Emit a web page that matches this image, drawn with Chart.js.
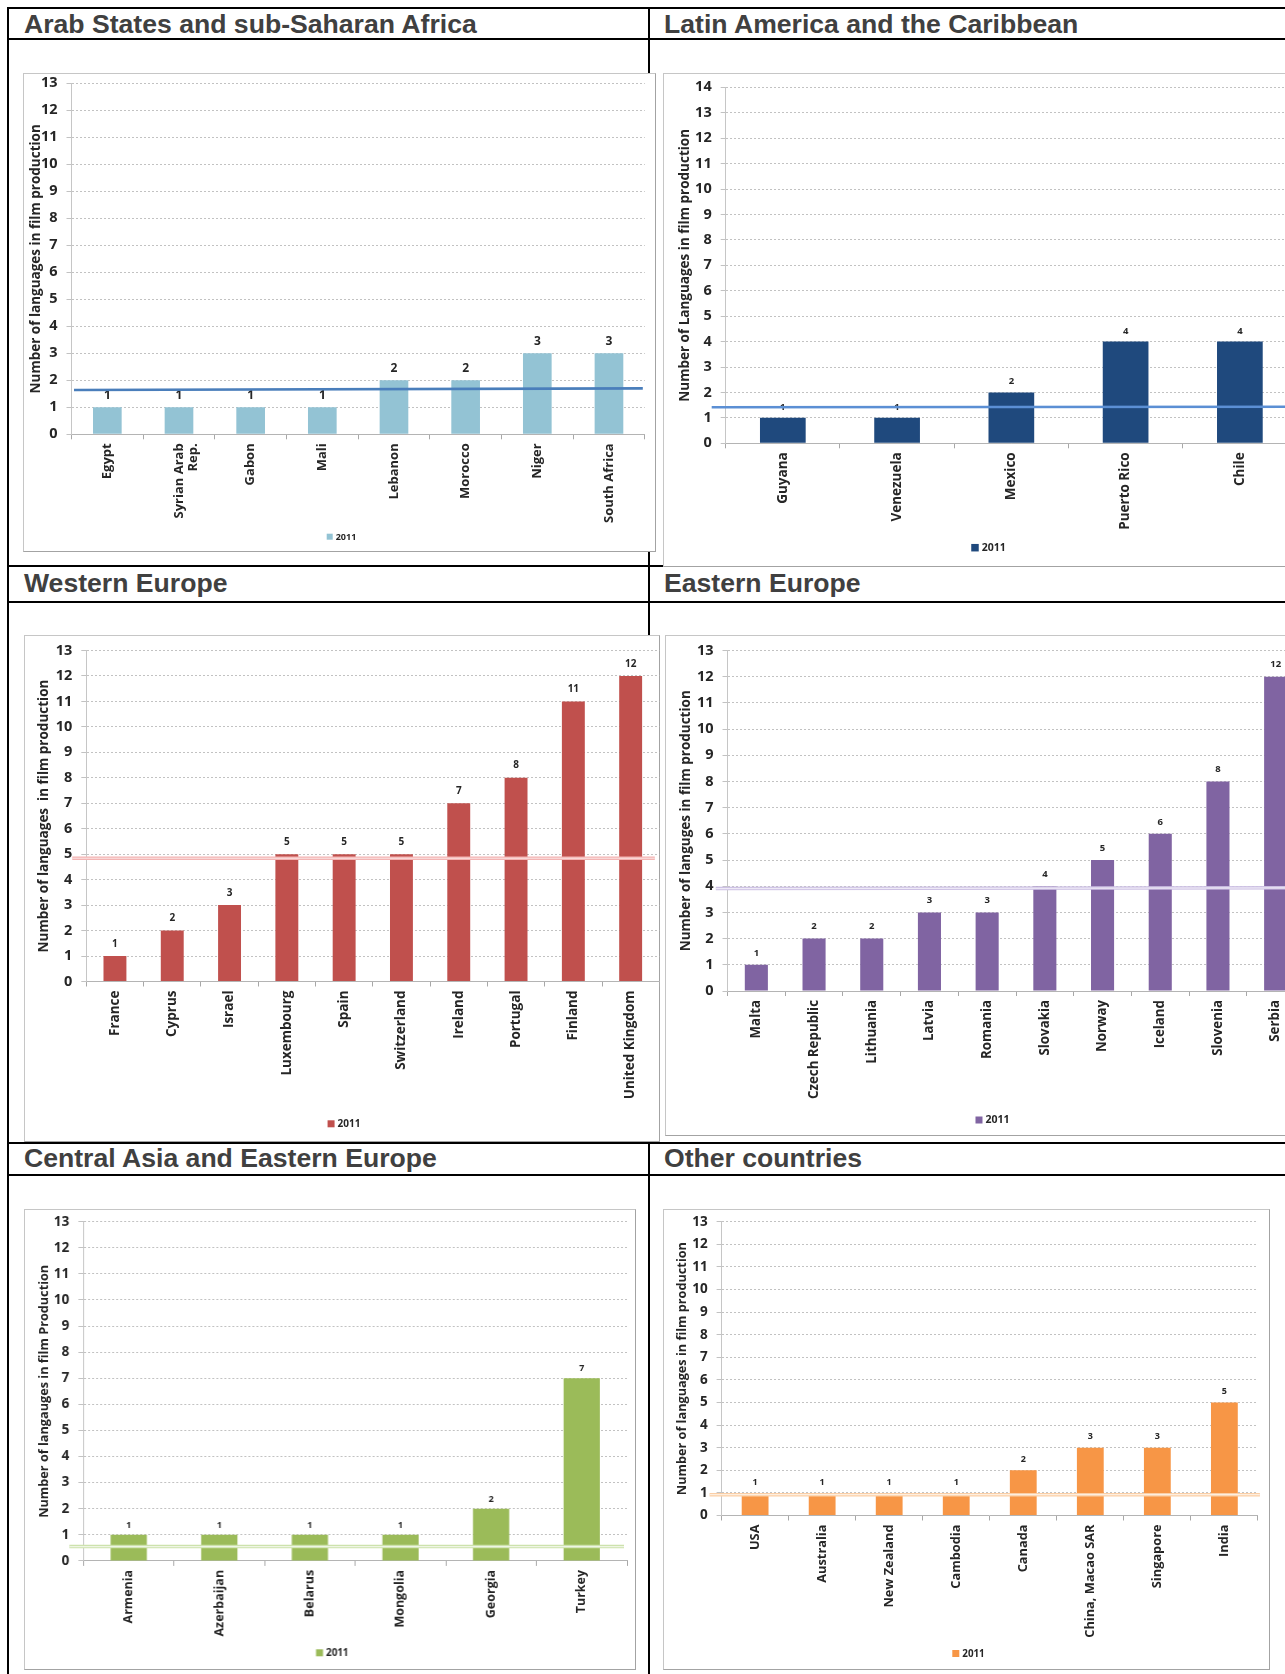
<!DOCTYPE html>
<html>
<head>
<meta charset="utf-8">
<title>Number of languages in film production, 2011</title>
<script src="https://cdn.jsdelivr.net/npm/chart.js@4.4.1/dist/chart.umd.min.js"></script>
<style>
  html, body { margin: 0; padding: 0; background: #fff; width: 1285px; height: 1674px; overflow: hidden; position: relative; }
  .rule { position: absolute; background: #000; }
  .head { position: absolute; font: bold 26.6px "Liberation Sans", Arial, sans-serif; color: #404040; white-space: nowrap; line-height: 30px; height: 30px; }
  .box { position: absolute; background: #fff; border: 1px solid #c6c6c6; border-right-color: #a3a3a3; border-bottom-color: #a3a3a3; box-sizing: border-box; }
  .plot { position: absolute; left: -1px; top: -1px; }
</style>
</head>
<body>

<!-- table rules -->
<div class="rule" style="left:6.5px;top:6.5px;width:1280px;height:2px"></div>
<div class="rule" style="left:6.5px;top:6.5px;width:2px;height:1670px"></div>
<div class="rule" style="left:647.5px;top:6.5px;width:2px;height:1670px"></div>
<div class="rule" style="left:6.5px;top:38.3px;width:1280px;height:2px"></div>
<div class="rule" style="left:6.5px;top:565px;width:1280px;height:2px"></div>
<div class="rule" style="left:6.5px;top:601px;width:1280px;height:2px"></div>
<div class="rule" style="left:6.5px;top:1141.5px;width:1280px;height:2px"></div>
<div class="rule" style="left:6.5px;top:1174px;width:1280px;height:2px"></div>

<!-- region headings -->
<div class="head" style="left:24px;top:9.1px">Arab States and sub-Saharan Africa</div>
<div class="head" style="left:664px;top:9.1px">Latin America and the Caribbean</div>
<div class="head" style="left:24px;top:568.3px">Western Europe</div>
<div class="head" style="left:664px;top:567.8px">Eastern Europe</div>
<div class="head" style="left:24px;top:1143.2px">Central Asia and Eastern Europe</div>
<div class="head" style="left:664px;top:1143.2px">Other countries</div>

<!-- chart frames -->
<div class="box" style="left:23px;top:73px;width:633px;height:479px"><div class="plot" style="width:633px;height:479px"><canvas id="arab"></canvas></div></div>
<div class="box" style="left:663px;top:73px;width:647px;height:494px"><div class="plot" style="width:647px;height:494px"><canvas id="latin"></canvas></div></div>
<div class="box" style="left:24px;top:634.5px;width:636px;height:507px"><div class="plot" style="width:636px;height:507px"><canvas id="west"></canvas></div></div>
<div class="box" style="left:665px;top:634.5px;width:651px;height:501.5px"><div class="plot" style="width:651px;height:501.5px"><canvas id="east"></canvas></div></div>
<div class="box" style="left:24px;top:1208.5px;width:611.5px;height:461px"><div class="plot" style="width:611.5px;height:461px"><canvas id="central"></canvas></div></div>
<div class="box" style="left:663.4px;top:1208.5px;width:607px;height:461px"><div class="plot" style="width:607px;height:461px"><canvas id="other"></canvas></div></div>

<script>
// ---- data ----
const seriesLabel = '2011';

const arabCountries = ['Egypt', ['Syrian Arab', 'Rep.'], 'Gabon', 'Mali', 'Lebanon', 'Morocco', 'Niger', 'South Africa'];
const arabLanguages = [1, 1, 1, 1, 2, 2, 3, 3];
const arabLevel = [1.64, 1.70];

const latinCountries = ['Guyana', 'Venezuela', 'Mexico', 'Puerto Rico', 'Chile'];
const latinLanguages = [1, 1, 2, 4, 4];
const latinLevel = [1.42, 1.44];

const westCountries = ['France', 'Cyprus', 'Israel', 'Luxembourg', 'Spain', 'Switzerland', 'Ireland', 'Portugal', 'Finland', 'United Kingdom'];
const westLanguages = [1, 2, 3, 5, 5, 5, 7, 8, 11, 12];
const westLevel = [4.84, 4.84];

const eastCountries = ['Malta', 'Czech Republic', 'Lithuania', 'Latvia', 'Romania', 'Slovakia', 'Norway', 'Iceland', 'Slovenia', 'Serbia'];
const eastLanguages = [1, 2, 2, 3, 3, 4, 5, 6, 8, 12];
const eastLevel = [3.91, 3.94];

const centralCountries = ['Armenia', 'Azerbaijan', 'Belarus', 'Mongolia', 'Georgia', 'Turkey'];
const centralLanguages = [1, 1, 1, 1, 2, 7];
const centralLevel = [0.55, 0.55];

const otherCountries = ['USA', 'Australia', 'New Zealand', 'Cambodia', 'Canada', 'China, Macao SAR', 'Singapore', 'India'];
const otherLanguages = [1, 1, 1, 1, 2, 3, 3, 5];
const otherLevel = [0.92, 0.92];

// ---- plugins ----
const FONT = '"Open Sans", "DejaVu Sans", sans-serif';
const INK = '#262626';

// number printed above each bar
const valueLabels = {
  id: 'valueLabels',
  afterDatasetsDraw(chart, args, o) {
    const { ctx } = chart;
    const values = chart.data.datasets[0].data;
    ctx.save();
    ctx.font = `bold ${o.size}px ${FONT}`;
    ctx.fillStyle = INK;
    ctx.textAlign = 'center';
    ctx.textBaseline = 'middle';
    chart.getDatasetMeta(0).data.forEach((bar, i) => {
      ctx.fillText(String(values[i]), bar.x, bar.y - o.gap);
    });
    ctx.restore();
  }
};

// straight level line laid across the plot
const levelLine = {
  id: 'levelLine',
  afterDatasetsDraw(chart, args, o) {
    const { ctx, chartArea, scales } = chart;
    const x1 = chartArea.left + o.startShift;
    const x2 = chartArea.right + o.endShift;
    const y1 = scales.y.getPixelForValue(o.values[0]);
    const y2 = scales.y.getPixelForValue(o.values[1]);
    ctx.save();
    ctx.lineCap = 'butt';
    ctx.strokeStyle = o.color;
    ctx.lineWidth = o.width;
    ctx.beginPath(); ctx.moveTo(x1, y1); ctx.lineTo(x2, y2); ctx.stroke();
    if (o.core) {
      ctx.strokeStyle = o.core;
      ctx.lineWidth = o.coreWidth;
      ctx.beginPath(); ctx.moveTo(x1, y1); ctx.lineTo(x2, y2); ctx.stroke();
    }
    ctx.restore();
  }
};

// small swatch legend centred under the axis
const swatchLegend = {
  id: 'swatchLegend',
  afterDraw(chart, args, o) {
    const { ctx } = chart;
    const ds = chart.data.datasets[0];
    ctx.save();
    ctx.font = `bold ${o.size}px ${FONT}`;
    const tw = ctx.measureText(ds.label).width;
    const total = o.box + 3 + tw;
    const x = chart.width / 2 + o.shift - total / 2;
    ctx.fillStyle = ds.backgroundColor;
    ctx.fillRect(x, o.y - o.box / 2, o.box, o.box);
    ctx.fillStyle = INK;
    ctx.textAlign = 'left';
    ctx.textBaseline = 'middle';
    ctx.fillText(ds.label, x + o.box + 3, o.y + 0.5);
    ctx.restore();
  }
};

function buildChart(id, s) {
  const W = s.width, H = s.height;
  return new Chart(document.getElementById(id), {
    type: 'bar',
    data: {
      labels: s.labels,
      datasets: [{
        label: seriesLabel,
        data: s.values,
        backgroundColor: s.color,
        barPercentage: 0.4,
        categoryPercentage: 1
      }]
    },
    options: {
      responsive: true,
      maintainAspectRatio: false,
      animation: false,
      events: [],
      layout: { padding: { left: 0, top: s.top, right: W - s.right, bottom: 0 } },
      plugins: {
        legend: { display: false },
        tooltip: { enabled: false },
        valueLabels: { size: s.valueSize, gap: s.valueGap },
        levelLine: Object.assign({ values: s.level }, s.levelStyle),
        swatchLegend: { y: s.legendY, size: s.legendSize, box: s.legendBox, shift: 2 }
      },
      scales: {
        x: {
          grid: { display: true, drawOnChartArea: false, drawTicks: true, tickLength: 5, color: '#a8a8a8', offset: true },
          border: { display: true, color: '#b4b4b4', width: 1 },
          ticks: {
            autoSkip: false, minRotation: 90, maxRotation: 90, padding: 4,
            color: INK, font: { family: FONT, weight: 'bold', size: s.xSize, lineHeight: 1.1 }
          },
          afterFit(scale) { scale.height = H - s.bottom; scale.paddingLeft = 0; scale.paddingRight = 0; }
        },
        y: {
          min: 0, max: s.yMax,
          grid: { color: '#c2c2c2', lineWidth: 1, tickLength: 5, tickBorderDash: [] },
          border: { display: true, color: '#c6c6c6', width: 1, dash: [2, 2] },
          ticks: {
            stepSize: 1, padding: 9, color: INK,
            font: { family: FONT, weight: 'bold', size: s.ySize }
          },
          title: {
            display: true, text: s.yTitle, color: INK,
            font: { family: FONT, weight: 'bold', size: s.titleSize, lineHeight: 1.2 },
            padding: { top: s.titleX - s.titleSize * 0.6, bottom: 0 }
          },
          afterFit(scale) { scale.width = s.axis; scale.paddingTop = 0; scale.paddingBottom = 0; }
        }
      }
    },
    plugins: [valueLabels, levelLine, swatchLegend]
  });
}

function paleLine(outer, inner) {
  return { color: outer, width: 3.5, core: inner, coreWidth: 1.2 };
}

function drawAll() {
  buildChart('arab', {
    width: 633, height: 479, labels: arabCountries, values: arabLanguages, color: '#93c3d4', yMax: 13,
    axis: 48.5, top: 10.3, bottom: 361.3, right: 621.8,
    yTitle: 'Number of languages in film production', titleX: 13.5, titleSize: 13.5, ySize: 14.5, xSize: 13,
    valueSize: 12, valueGap: 12, legendY: 463.7, legendSize: 9, legendBox: 6,
    level: arabLevel, levelStyle: { color: '#4a7ebb', width: 2.6, startShift: 2.5, endShift: -2 }
  });
  buildChart('latin', {
    width: 647, height: 494, labels: latinCountries, values: latinLanguages, color: '#1f497d', yMax: 14,
    axis: 62.7, top: 14.3, bottom: 370.3, right: 634,
    yTitle: 'Number of Languages in film production', titleX: 22, titleSize: 13.5, ySize: 14.5, xSize: 13.5,
    valueSize: 9.5, valueGap: 10.7, legendY: 474.7, legendSize: 10.5, legendBox: 7.5,
    level: latinLevel, levelStyle: { color: '#5b8fd4', width: 2.4, startShift: -14, endShift: 0 }
  });
  buildChart('west', {
    width: 636, height: 507, labels: westCountries, values: westLanguages, color: '#c0504d', yMax: 13,
    axis: 62.3, top: 15.5, bottom: 346.5, right: 635.3,
    yTitle: 'Number of languages  in film production', titleX: 20.2, titleSize: 13.5, ySize: 14.5, xSize: 13.5,
    valueSize: 10, valueGap: 12.2, legendY: 488.8, legendSize: 10, legendBox: 7,
    level: westLevel, levelStyle: Object.assign(paleLine('#f3b4b3', '#fbe3e3'), { startShift: -14, endShift: -4.5 })
  });
  buildChart('east', {
    width: 651, height: 501.5, labels: eastCountries, values: eastLanguages, color: '#8064a2', yMax: 13,
    axis: 62.5, top: 15.5, bottom: 356, right: 639.5,
    yTitle: 'Number of languges in film production', titleX: 21.3, titleSize: 13.5, ySize: 14.5, xSize: 13.3,
    valueSize: 9.5, valueGap: 12, legendY: 485, legendSize: 10.5, legendBox: 7,
    level: eastLevel, levelStyle: Object.assign(paleLine('#cdc1e4', '#eee9f6'), { startShift: -11.7, endShift: 0 })
  });
  buildChart('central', {
    width: 611.5, height: 461, labels: centralCountries, values: centralLanguages, color: '#9bbb59', yMax: 13,
    axis: 59.3, top: 12.7, bottom: 351.9, right: 602,
    yTitle: 'Number of langauges in film Production', titleX: 20.2, titleSize: 12.7, ySize: 13.5, xSize: 12.5,
    valueSize: 9, valueGap: 9.7, legendY: 443.8, legendSize: 9.8, legendBox: 7,
    level: centralLevel, levelStyle: Object.assign(paleLine('#cde2ad', '#eef5e3'), { startShift: -14, endShift: -3 })
  });
  buildChart('other', {
    width: 607, height: 461, labels: otherCountries, values: otherLanguages, color: '#f79646', yMax: 13,
    axis: 58.6, top: 12.7, bottom: 306.5, right: 594.9,
    yTitle: 'Number of languages in film production', titleX: 19.8, titleSize: 12.7, ySize: 13.5, xSize: 12.8,
    valueSize: 9, valueGap: 10.8, legendY: 444.5, legendSize: 9.8, legendBox: 7,
    level: otherLevel, levelStyle: Object.assign(paleLine('#fbcfa6', '#fdeedf'), { startShift: -12, endShift: 2 })
  });
}

const ready = document.fonts && document.fonts.load
  ? Promise.all([document.fonts.load('bold 14px "Open Sans"'), document.fonts.load('bold 26px "Liberation Sans"')]).catch(() => {})
  : Promise.resolve();
ready.then(drawAll);
</script>
</body>
</html>
